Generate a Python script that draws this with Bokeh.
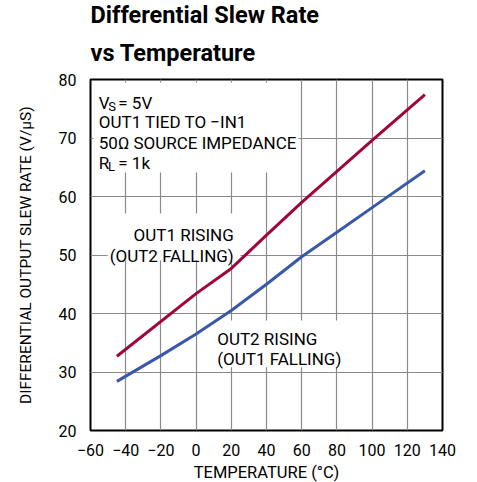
from bokeh.plotting import figure
from bokeh.models import Label, FixedTicker, Title
from bokeh.embed import file_html
from bokeh.resources import INLINE

# Data
temp_red = [-45, 0, 20, 40, 60, 80, 100, 130]
rate_red = [32.7, 43.4, 47.7, 53.4, 59.0, 64.3, 69.6, 77.4]
temp_blue = [-45, -20, 0, 20, 40, 60, 80, 100, 130]
rate_blue = [28.4, 32.8, 36.5, 40.5, 45.0, 49.7, 53.9, 58.1, 64.4]
x_ticks = [-60, -40, -20, 0, 20, 40, 60, 80, 100, 120, 140]
y_ticks = [20, 30, 40, 50, 60, 70, 80]
title_lines = ["Differential Slew Rate", "vs Temperature"]

FONT = "Roboto"
RED = "#A0063A"
BLUE = "#3A58A8"

p = figure(width=477, height=482, x_range=(-60, 140), y_range=(20, 80),
           output_backend="svg", toolbar_location=None, title=None,
           frame_width=352, frame_height=351,
           min_border_left=90, min_border_right=35, min_border_top=79, min_border_bottom=52)

p.outline_line_color = "black"
p.outline_line_width = 2

for ax in (p.xaxis[0], p.yaxis[0]):
    ax.axis_line_color = None
    ax.major_tick_line_color = None
    ax.minor_tick_line_color = None
    ax.major_label_text_font = FONT
    ax.major_label_text_font_size = "16px"
    ax.major_label_text_color = "black"
    ax.axis_label_text_font = FONT
    ax.axis_label_text_font_style = "normal"
    ax.axis_label_text_color = "black"

p.xaxis.ticker = FixedTicker(ticks=x_ticks)
p.yaxis.ticker = FixedTicker(ticks=y_ticks)
p.xaxis.major_label_overrides = {t_: (str(t_).replace("-", "\u2212")) for t_ in x_ticks}
p.xaxis.axis_label = "TEMPERATURE (°C)"
p.yaxis.axis_label = "DIFFERENTIAL OUTPUT SLEW RATE (V/µS)"
p.xaxis.axis_label_text_font_size = "16.5px"
p.yaxis.axis_label_text_font_size = "15.5px"
p.xaxis.major_label_standoff = 7
p.xaxis.axis_label_standoff = 4
p.yaxis.major_label_standoff = 8
p.yaxis.axis_label_standoff = 21

p.xgrid.ticker = FixedTicker(ticks=x_ticks)
p.ygrid.ticker = FixedTicker(ticks=y_ticks)
for g in (p.xgrid[0], p.ygrid[0]):
    g.grid_line_color = "#8a8a8a"
    g.grid_line_width = 1.2

# white panels behind texts (drawn under the curves)
p.quad(left=[-58.3, -50.3, 9.3], right=[58.2, 25.2, 84.9],
       top=[79.5, 57.1, 38.8], bottom=[64.1, 49.06, 30.8],
       fill_color="white", line_color=None)

p.line(temp_red, rate_red, line_color=RED, line_width=3)
p.line(temp_blue, rate_blue, line_color=BLUE, line_width=3)

def lab(x, y, text, size="17px", align="left"):
    p.add_layout(Label(x=x, y=y, text=text, text_font=FONT, text_font_size=size,
                       text_align=align, text_baseline="alphabetic", text_color="black"))

lab(-55.3, 76.0, "V")
lab(-49.9, 75.4, "S", size="13px")
lab(-44.2, 76.0, "= 5V")
lab(-55.3, 72.7, "OUT1 TIED TO \u2212IN1")
lab(-55.3, 69.1, "50\u03a9 SOURCE IMPEDANCE")
lab(-55.3, 65.76, "R")
lab(-50.0, 65.2, "L", size="13px")
lab(-44.2, 65.76, "= 1k")

lab(21.4, 53.5, "OUT1 RISING", align="right")
lab(21.4, 49.9, "(OUT2 FALLING)", align="right")
lab(12.0, 35.7, "OUT2 RISING")
lab(12.0, 32.3, "(OUT1 FALLING)")

# Title (two stacked titles: second line added first, nearest the frame)
sub = Title(text=title_lines[1], text_font=FONT, text_font_size="23.5px",
            text_font_style="bold", text_color="black", align="left", standoff=25)
main = Title(text=title_lines[0], text_font=FONT, text_font_size="23.5px",
             text_font_style="bold", text_color="black", align="left", standoff=-8)
p.add_layout(sub, "above")
p.add_layout(main, "above")

open("out.html", "w").write(file_html(p, INLINE))
